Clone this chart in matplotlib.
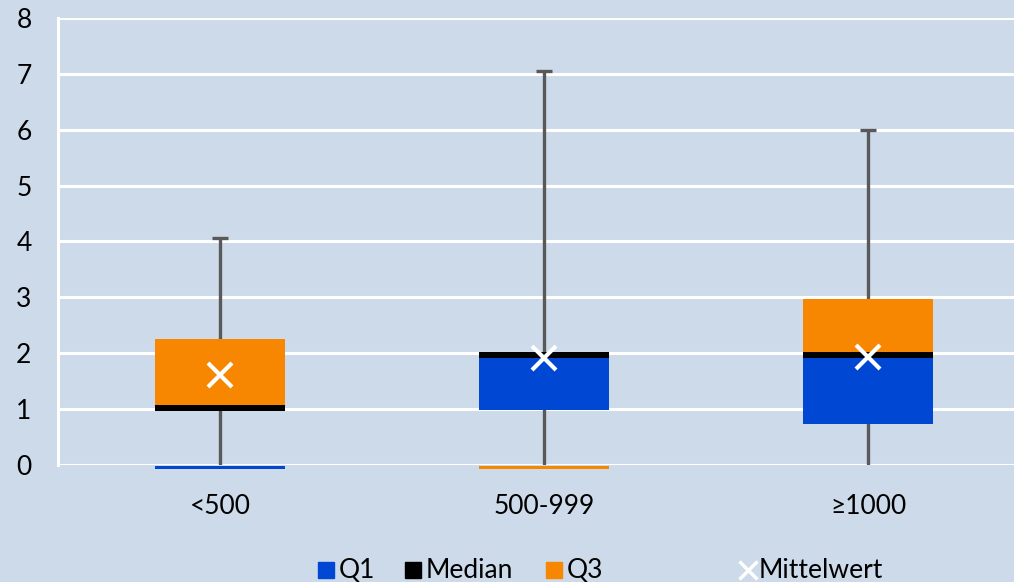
import matplotlib
matplotlib.use("Agg")
import matplotlib.pyplot as plt
from matplotlib.patches import Rectangle
from matplotlib.lines import Line2D

plt.rcParams["font.family"] = ["Lato", "DejaVu Sans"]

# Daten
categories = ["<500", "500-999", "≥1000"]
q1 = [1.03, 0.98, 0.73]
median = [1.03, 1.97, 1.97]
q3 = [2.25, 1.97, 2.97]
minimum = [0, 0, 0]
maximum = [4.07, 7.05, 6.0]
mittelwert = [1.61, 1.91, 1.93]

bg = "#CDDAEA"
blue = "#0047D4"
orange = "#F78600"
grey = "#595959"

W, H = 1014, 582
fig = plt.figure(figsize=(W / 100, H / 100), dpi=100, facecolor=bg)
ax = fig.add_axes([58 / W, 117 / H, 972 / W, 447 / H])
ax.set_facecolor(bg)

x = list(range(len(categories)))
bw = 0.4
band_lo, band_hi = 0.06, 0.05  # dicke des Median-Balkens

# Whisker hinter den Boxen
ax.vlines(x, minimum, maximum, color=grey, lw=2.4, zorder=2)
ax.hlines(maximum, [i - 0.025 for i in x], [i + 0.025 for i in x], color=grey, lw=2.4, zorder=2)

for i in x:
    lo_blue = q1[i]
    h_blue = median[i] - band_lo - q1[i]
    lo_or = median[i] + band_hi
    h_or = q3[i] - lo_or
    # Excel zeichnet Segmente mit Höhe 0 als Strich unter der Null
    if h_blue <= 0:
        lo_blue, h_blue = -0.075, 0.05
    if h_or <= 0:
        lo_or, h_or = -0.075, 0.05
    ax.bar(i, h_blue, bw, bottom=lo_blue, color=blue, zorder=3, clip_on=False)
    ax.bar(i, band_lo + band_hi, bw, bottom=median[i] - band_lo, color="black", zorder=3)
    ax.bar(i, h_or, bw, bottom=lo_or, color=orange, zorder=3, clip_on=False)

ax.plot(x, mittelwert, "x", color="white", ms=17, mew=3, ls="none", zorder=4)

ax.set_xlim(-0.5, 2.5)
ax.set_ylim(0, 8)
ax.set_yticks(range(0, 9))
ax.set_xticks(x)
ax.set_xticklabels(categories)
ax.grid(axis="y", color="white", lw=2.2, zorder=1)
ax.set_axisbelow(True)
for s in ["top", "right", "bottom"]:
    ax.spines[s].set_visible(False)
ax.spines["left"].set_color("white")
ax.spines["left"].set_linewidth(2.2)
ax.tick_params(axis="both", length=0, labelsize=19, colors="black")
ax.tick_params(axis="y", pad=19)
ax.tick_params(axis="x", pad=21)

# Legende von Hand gesetzt
ly = 570
def px(xp, yp):
    return xp / W, (H - yp) / H

items = [(318, blue, "Q1"), (405, "black", "Median"), (546, orange, "Q3")]
for xp, col, label in items:
    fx, fy = px(xp, ly + 8)
    fig.patches.append(Rectangle((fx, fy), 16 / W, 16 / H, color=col, transform=fig.transFigure))
    tx, ty = px(xp + 21, ly)
    fig.text(tx, ty, label, fontsize=19, va="center", ha="left")

mx, my = px(748, ly)
fig.lines.append(Line2D([mx], [my], marker="x", color="white", ms=13, mew=2.5, transform=fig.transFigure))
tx, ty = px(759, ly)
fig.text(tx, ty, "Mittelwert", fontsize=19, va="center", ha="left")

fig.savefig("out.png", dpi=100, facecolor=bg)
